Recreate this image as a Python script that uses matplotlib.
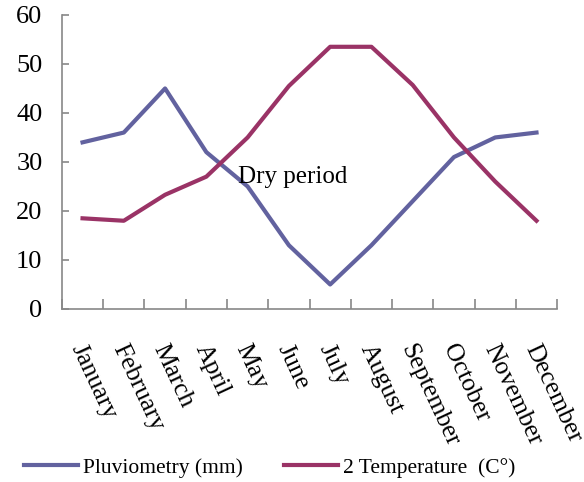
import numpy as np
import matplotlib
matplotlib.use("Agg")
import matplotlib.pyplot as plt
import matplotlib.transforms as mtransforms

plt.rcParams['font.family'] = ['Liberation Serif', 'DejaVu Serif']

months = ['January', 'February', 'March', 'April', 'May', 'June', 'July',
          'August', 'September', 'October', 'November', 'December']
pluvio = [34, 36, 45, 32, 25, 13, 5, 13, 22, 31, 35, 36]
temperature = [18.5, 18, 23.3, 27, 35, 45.5, 53.5, 53.5, 45.7, 35, 26, 18]
yticks = [0, 10, 20, 30, 40, 50, 60]

fig = plt.figure(figsize=(5.84, 4.82), dpi=100)
ax = fig.add_axes([0.106, 0.359, 0.848, 0.610])

x = np.arange(len(months))
ax.plot(x, pluvio, color='#62629f', lw=3, label='Pluviometry (mm)')
ax.plot(x, temperature, color='#9a3366', lw=3, label='2 Temperature  (C°)')

ax.text(5.1, 27.0, 'Dry period', fontsize=18, ha='center', va='center')

ax.set_xlim(-0.5, 11.5)
ax.set_ylim(0, 60)
ax.set_yticks(yticks)
ax.set_xticks(np.arange(-0.5, 12, 1))
ax.set_xticklabels([])
ax.set_xticks(x, minor=True)
ax.set_xticklabels(months, minor=True)

for s in ['top', 'right']:
    ax.spines[s].set_visible(False)
for s in ['left', 'bottom']:
    ax.spines[s].set_color('#888888')
    ax.spines[s].set_linewidth(1.2)

ax.tick_params(axis='y', direction='in', length=5, width=1.2, color='#888888',
               labelsize=19, pad=14)
ax.tick_params(axis='x', which='major', direction='in', length=7, width=1.2,
               color='#888888')
ax.tick_params(axis='x', which='minor', length=0, labelsize=18.5, pad=26)
# nudge the slanted month names a little to the left
shift = mtransforms.ScaledTranslation(-6 / 100, 0, fig.dpi_scale_trans)
for lab in ax.get_xticklabels(minor=True):
    lab.set_rotation(-65)
    lab.set_ha('left')
    lab.set_va('center')
    lab.set_rotation_mode('anchor')
    lab.set_transform(lab.get_transform() + shift)

ax.legend(loc='center', bbox_to_anchor=(0.42, -0.54), ncol=2, frameon=False,
          fontsize=15.5, handlelength=2.5, handletextpad=0.25,
          columnspacing=1.9)

fig.savefig('out.png', dpi=100)
